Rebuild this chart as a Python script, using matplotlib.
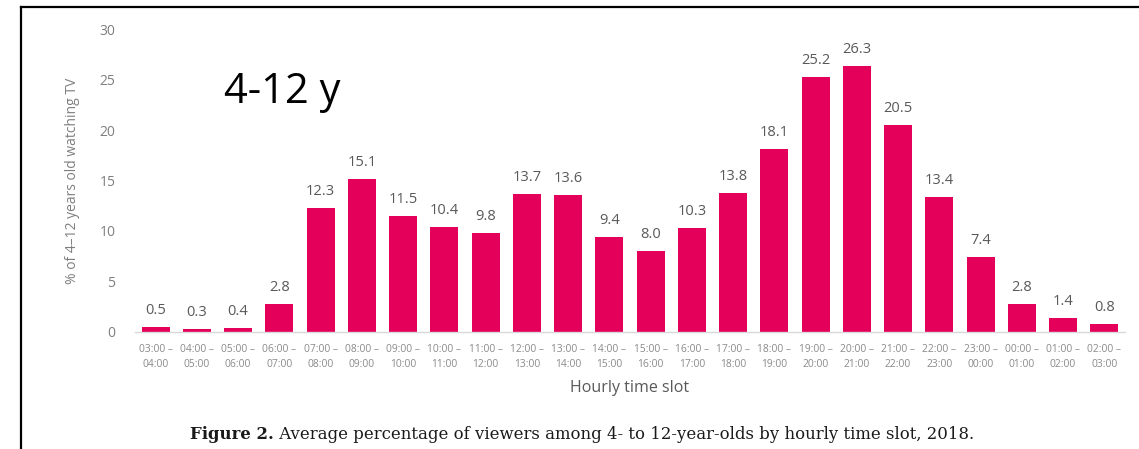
import numpy as np
import matplotlib.pyplot as plt
from matplotlib.lines import Line2D

# hourly slots and share of 4-12 year olds watching TV (%)
slot_start = ["03:00", "04:00", "05:00", "06:00", "07:00", "08:00", "09:00", "10:00",
              "11:00", "12:00", "13:00", "14:00", "15:00", "16:00", "17:00", "18:00",
              "19:00", "20:00", "21:00", "22:00", "23:00", "00:00", "01:00", "02:00"]
slot_end = ["04:00", "05:00", "06:00", "07:00", "08:00", "09:00", "10:00", "11:00",
            "12:00", "13:00", "14:00", "15:00", "16:00", "17:00", "18:00", "19:00",
            "20:00", "21:00", "22:00", "23:00", "00:00", "01:00", "02:00", "03:00"]
viewers = [0.5, 0.3, 0.4, 2.8, 12.3, 15.1, 11.5, 10.4, 9.8, 13.7, 13.6, 9.4,
           8.0, 10.3, 13.8, 18.1, 25.2, 26.3, 20.5, 13.4, 7.4, 2.8, 1.4, 0.8]

bar_col = "#E4005A"
grey = "#595959"

plt.rcParams['font.family'] = ['Open Sans', 'DejaVu Sans']

fig = plt.figure(figsize=(11.39, 4.49), dpi=100)
ax = fig.add_axes([0.1185, 0.2606, 0.8692, 0.6748])

x = np.arange(len(viewers))
bars = ax.bar(x, viewers, width=0.68, color=bar_col)
for xi, v in zip(x, viewers):
    ax.text(xi, v + 0.9, "%.1f" % v, ha="center", va="bottom", fontsize=10.5, color=grey)

ax.set_xlim(-0.5, len(viewers) - 0.5)
ax.set_ylim(0, 30)
ax.set_yticks(range(0, 31, 5))
ax.tick_params(axis="y", length=0, labelsize=10, labelcolor="#7f7f7f", pad=14)
ax.set_xticks(x)
ax.set_xticklabels([a + " \u2013\n" + b for a, b in zip(slot_start, slot_end)],
                   fontsize=7.4, color="#8a8a8a", linespacing=1.45)
ax.tick_params(axis="x", length=0, pad=9)
for s in ["top", "right", "left"]:
    ax.spines[s].set_visible(False)
ax.spines["bottom"].set_color("#d9d9d9")
ax.spines["bottom"].set_linewidth(1)

ax.set_xlabel("Hourly time slot", fontsize=11.5, color=grey, labelpad=7)
ax.set_ylabel("% of 4\u201312 years old watching TV", fontsize=10, color="#7f7f7f", labelpad=14)

fig.text(0.197, 0.7706, "4-12 y", fontsize=30, color="black", va="baseline")

# caption: bold figure number then the description
cap1 = fig.text(0.167, 0.022, "Figure 2.", fontsize=11.9, fontweight="bold",
                color="#1a1a1a", family=['DejaVu Serif'], va="baseline")
fig.text(0.0, 0.0, " Average percentage of viewers among 4- to 12-year-olds by hourly time slot, 2018.",
         fontsize=11.9, color="#1a1a1a", family=['DejaVu Serif'], va="baseline",
         transform=cap1.get_transform())
fig.canvas.draw()
bb = cap1.get_window_extent().transformed(fig.transFigure.inverted())
fig.texts[-1].set_position((bb.x1, 0.022))

# outer frame
fig.add_artist(Line2D([0.0184, 0.0184], [0, 0.9844], transform=fig.transFigure, color="black", lw=1.6))
fig.add_artist(Line2D([0.0184, 1.0], [0.9844, 0.9844], transform=fig.transFigure, color="black", lw=1.6))

fig.savefig("out.png", dpi=100)
